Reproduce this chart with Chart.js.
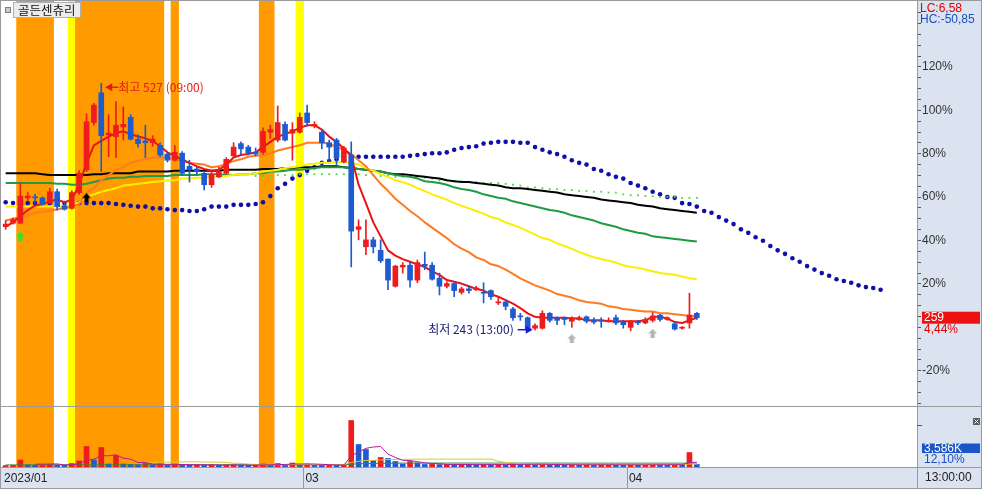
<!DOCTYPE html>
<html lang="ko">
<head>
<meta charset="utf-8">
<title>골든센츄리</title>
<script src="https://cdn.jsdelivr.net/npm/chart.js@4.4.1/dist/chart.umd.min.js"></script>
<style>
  html, body { margin: 0; padding: 0; background: #fff; }
  #box { position: relative; width: 982px; height: 489px; overflow: hidden; }
  #chart { display: block; }
  #pin { position: absolute; left: 5px; top: 7px; width: 4px; height: 4px; background: #c8c8c8; border: 1px solid #808080; }
  #name { position: absolute; left: 13px; top: 2px; height: 14px; padding: 0 4px; background: #ececec;
          border: 1px solid #b0b0b0; font: 12.5px/14px "Noto Sans CJK KR", sans-serif; color: #111; }
</style>
</head>
<body>
<div id="box">
  <canvas id="chart" width="982" height="489"></canvas>
  <div id="pin"></div>
  <div id="name">골든센츄리</div>
</div>
<script>
// one candle per bar, prices in won
const opens = [363,367,367,396,397,396,390,403,387,384,
  402,428,482,516,468,466,477,488,463,461,
  459,456,446,439,447,432,429,424,411,420,
  424,444,458,454,448,448,471,462,480,470,
  471,493,478,471,459,462,437,445,360,340,
  348,336,326,295,317,319,302,320,319,304,
  295,298,288,292,291,288,290,276,277,269,
  261,259,247,247,264,259,259,255,257,260,
  256,256,255,259,254,248,255,253,256,262,
  257,252,247,253,264];
const highs = [370,373,413,402,400,397,407,406,390,404,
  427,492,504,527,491,506,500,491,468,479,
  467,459,448,456,449,439,431,426,426,431,
  442,459,460,456,453,476,479,501,483,482,
  493,502,483,474,462,464,455,460,371,371,
  351,348,326,319,322,322,325,334,322,310,
  300,299,294,295,295,299,291,283,279,271,
  264,260,252,267,265,260,260,260,261,261,
  259,259,259,262,256,256,256,259,265,263,
  260,254,249,287,265];
const lows = [360,366,367,392,390,388,389,382,382,383,
  400,426,479,426,443,442,462,462,454,442,
  455,443,437,438,422,414,423,405,408,419,
  423,443,445,445,444,446,464,460,461,439,
  470,478,476,452,439,434,436,317,348,331,
  333,322,291,294,310,294,299,314,302,285,
  293,283,286,287,290,276,280,274,268,256,
  256,243,245,246,254,251,251,248,256,253,
  252,248,254,251,247,244,251,252,254,255,
  256,245,246,247,257];
const closes = [366,371,398,398,396,389,403,386,383,402,
  424,483,502,467,470,479,480,463,458,459,
  463,445,439,448,424,428,426,411,423,426,
  440,454,452,447,446,472,474,482,462,474,
  488,482,480,459,454,442,453,358,363,348,
  340,324,302,318,319,302,322,318,303,295,
  298,290,292,290,293,287,283,277,272,259,
  260,245,250,264,256,256,257,259,259,255,
  254,255,256,253,251,255,253,257,261,257,
  259,246,248,262,259];

// price averages
const ma5 = [363,368,375,382,387,389,392,394,391,394,
  411,436,456,461,466,470,472,469,466,464,
  461,455,448,444,440,436,432,429,427,428,
  434,442,445,446,448,454,460,466,469,472,
  476,479,479,474,466,460,452,444,411,390,
  368,352,336,330,326,323,320,317,312,308,
  302,300,298,295,292,290,286,283,279,275,
  270,264,260,259,259,259,259,258,258,256,
  256,256,255,255,255,255,255,256,260,260,
  258,254,253,256,259];
const ma20 = [370,372,374,376,379,380,381,383,384,386,
  389,402,407,416,422,428,431,436,438,440,
  442,442,442,440,438,436,435,434,431,432,
  435,438,440,443,444,445,447,450,452,454,
  456,459,459,459,458,454,451,446,439,432,
  422,412,404,395,388,381,375,368,362,356,
  350,343,338,334,328,325,320,318,314,309,
  304,300,296,293,290,286,284,282,279,277,
  276,275,272,271,269,268,267,266,266,264,
  264,263,262,261,261];
const ma60 = [386,386,386,386,386,386,386,386,386,387,
  391,397,400,403,405,407,410,411,412,413,
  414,415,416,416,418,418,419,419,420,420,
  421,422,423,423,424,426,427,428,430,431,
  432,434,435,436,436,437,437,436,434,430,
  427,423,420,416,414,411,407,404,400,397,
  394,390,387,384,381,378,374,372,368,365,
  362,358,354,350,348,344,341,338,334,331,
  328,326,324,322,319,317,316,314,312,310,
  309,308,306,304,303];
const ma120 = [413,413,413,413,413,413,413,412,412,411,
  411,412,414,416,418,419,419,420,420,421,
  421,421,421,422,422,422,422,423,423,423,
  422,422,423,423,424,424,426,426,427,428,
  428,429,430,431,431,431,431,430,429,428,
  427,426,424,422,421,420,418,415,414,413,
  411,408,406,405,403,400,398,396,395,392,
  390,388,386,384,382,381,379,376,374,372,
  370,367,365,363,360,358,356,355,352,351,
  350,349,348,347,346];
const ma240 = [424,424,424,424,424,423,422,422,422,422,
  422,422,423,423,424,424,424,424,426,426,
  426,426,426,427,427,427,427,427,427,427,
  428,428,428,428,428,429,429,429,430,430,
  431,431,431,432,432,432,431,430,429,428,
  427,426,424,423,423,422,421,420,419,418,
  416,415,414,414,413,412,411,410,408,407,
  407,406,405,404,403,402,400,399,398,397,
  396,394,393,392,391,390,388,387,386,384,
  383,382,381,380,379];

// dotted lines; the green one starts at bar 34, the blue one runs 25 bars past the last candle
const greenStart = 34;
const greenDots = [421,421,421,422,422,422,423,423,423,423,
  423,423,423,423,423,422,422,421,421,420,
  420,420,419,419,418,416,416,415,415,414,
  414,413,413,413,412,411,410,408,408,407,
  406,406,405,405,404,404,403,403,402,402,
  400,399,399,398,398,397,397,397,396,396,
  396];
const blueDots = [391,390,390,390,390,390,390,390,390,390,
  390,390,390,390,390,389,388,387,386,386,
  384,384,383,382,382,381,381,383,386,386,
  386,388,388,388,389,391,398,407,412,418,
  422,427,431,436,438,440,442,442,443,443,
  443,443,443,443,443,444,445,446,447,447,
  448,451,453,454,455,458,459,460,460,460,
  459,459,454,451,448,446,443,439,436,434,
  429,427,423,420,418,413,410,407,403,400,
  397,396,390,389,386,381,379,374,370,366,
  360,356,351,347,341,336,332,327,323,318,
  314,310,307,303,301,299,296,294,293,291];

// volume, thousand shares
const volumes = [2100,2300,10000,3000,2600,2800,3600,2900,2500,5000,
  8600,29300,10000,27900,4300,16400,4300,3600,3300,5000,
  3600,4300,2900,3600,3400,2900,3100,2800,3000,2700,
  2900,3100,2800,2600,2800,4300,3000,5000,3000,5700,
  3600,4300,3000,2800,3000,2700,2900,66500,32200,25000,
  9300,13600,12200,7900,4300,7900,5700,3600,3800,3500,
  3600,3300,3700,3400,3100,3600,3300,3500,3200,5000,
  3600,4000,3500,3800,3400,3200,3000,3300,3100,3400,
  3000,3200,3300,3100,2900,3200,3000,3300,3500,3200,
  3000,3300,3100,20700,3586];
const volMa5 = [null,null,null,null,4000,4100,4300,4400,3000,3300,
  4500,9800,11100,16200,16000,17600,12600,11300,6400,6500,
  4000,4000,3800,3900,3600,3300,3300,3200,3000,2900,
  2900,2900,2900,2800,2800,3100,3100,3500,3600,4200,
  4300,4300,4300,3800,3300,3000,2900,15600,21700,26700,
  28600,29300,18500,13600,9500,9200,7600,5900,5100,4700,
  3600,3600,3600,3500,3400,3400,3400,3400,3400,3700,
  3800,3900,3900,4000,3700,3600,3400,3300,3200,3200,
  3200,3200,3200,3200,3100,3100,3100,3100,3200,3200,
  3200,3300,3200,6600,6700];
const volMa20 = [null,null,null,null,null,null,null,null,null,null,
  null,null,null,null,null,null,null,null,null,6800,
  6900,7000,7000,7100,7200,7400,7300,7200,7000,6900,
  6700,5300,5200,4100,3700,3200,3200,3300,3300,3400,
  3400,3400,3400,3400,3400,3400,3400,6600,8100,9200,
  9600,10100,10600,10800,10900,11100,11300,11300,11300,11300,
  11300,11300,11300,11300,11300,11300,11300,8100,6600,5500,
  4800,4500,4100,3900,3900,3700,3600,3400,3400,3400,
  3400,3400,3400,3400,3400,3400,3400,3400,3400,3400,
  3400,3400,3400,4300,4300];
const volMa60 = [3000,3000,3000,3000,3000,3000,3000,3000,3000,3000,
  3000,3000,3000,3000,3000,3000,3000,3000,3000,3000,
  3000,3000,3000,3000,3000,3000,3000,3000,3000,3000,
  3000,3000,3000,3000,3000,3000,3000,3000,3000,3000,
  3000,3000,3000,3000,3000,3000,3000,4100,4600,5000,
  5100,5300,5400,5500,5500,5600,5600,5600,5600,5600,
  5600,5600,5600,5600,5600,5600,5600,5600,5600,5600,
  5600,5600,5600,5600,5600,5600,5600,5500,5500,5500,
  5500,5500,5500,5500,5500,5500,5500,5500,5500,5500,
  5500,5500,5500,5500,5500];

// highlighted bars
const orangeBars = [2,3,4,5,6,10,11,12,13,14,15,16,17,18,19,20,21,23,35,36];
const yellowBars = [9,40];

// signal arrows under the candles
const signalBars = [2,11,77,88];
const signalPrices = [352,396,235,241];
const signalKinds = ['buy','alert','mark','mark'];

// x axis
const monthLabels = ['2023/01','03','04'];
const monthStarts = [0,41,85];
const timeLabel = '13:00:00';

// right axis: percent against the base price
const basePrice = 248;
const pctLabels = [120,100,80,60,40,20,-20];
const highTime = '09:00';
const lowTime = '13:00';
const volRatio = '12,10%';

const RED = '#ee1c1c', BLUE = '#1f5bd0';
const volPanelTop = 406;

const pts = (arr, start = 0) => arr.map((v, k) => ({ x: k + start, y: v }));
const pct = v => (v / basePrice - 1) * 100;
const fmt = v => v.toFixed(2).replace('.', ',');
const candleColors = closes.map((c, k) => c >= opens[k] ? RED : BLUE);
const volColors = volumes.map((v, k) => k > 0 && v < volumes[k - 1] ? BLUE : RED);

const pctTicks = [];
for (let p = -35; p <= 145; p += 5) pctTicks.push(p);

function arrowImage(color) {
  const c = document.createElement('canvas');
  c.width = 9; c.height = 9;
  const g = c.getContext('2d');
  g.fillStyle = color;
  g.beginPath();
  g.moveTo(4.5, 0); g.lineTo(9, 4.5); g.lineTo(6.5, 4.5); g.lineTo(6.5, 9);
  g.lineTo(2.5, 9); g.lineTo(2.5, 4.5); g.lineTo(0, 4.5);
  g.closePath(); g.fill();
  return c;
}
const arrows = { buy: arrowImage('#2ee62e'), alert: arrowImage('#000000'), mark: arrowImage('#b4b4b4') };

function line(ctx, x1, y1, x2, y2) {
  ctx.beginPath(); ctx.moveTo(x1, y1); ctx.lineTo(x2, y2); ctx.stroke();
}

const frame = {
  id: 'frame',
  beforeDraw(chart) {
    const { ctx, width, height, chartArea: a } = chart;
    ctx.save();
    ctx.fillStyle = '#ffffff';
    ctx.fillRect(0, 0, width, height);
    ctx.fillStyle = '#dae3ef';
    ctx.fillRect(a.right, 0, width - a.right, height);
    ctx.fillRect(0, a.bottom, a.right, height - a.bottom);
    ctx.restore();
  },
  afterDraw(chart) {
    const { ctx, width, height, chartArea: a, scales } = chart;
    const xs = scales.x, ys = scales.y;
    ctx.save();
    ctx.strokeStyle = '#9a9a9a';
    ctx.lineWidth = 1;
    line(ctx, 0, volPanelTop + 0.5, width, volPanelTop + 0.5);
    line(ctx, 0, a.bottom + 0.5, width, a.bottom + 0.5);
    line(ctx, a.right + 0.5, 0, a.right + 0.5, height);
    ctx.strokeRect(0.5, 0.5, width - 1, height - 1);
    xs.ticks.forEach(t => {
      if (t.value > xs.min) {
        const x = Math.round(xs.getPixelForValue(t.value)) + 0.5;
        line(ctx, x, a.bottom, x, height);
      }
    });
    ctx.strokeStyle = '#555';
    line(ctx, a.right, 425.5, a.right + 5, 425.5);

    ctx.font = '12px "Liberation Sans", Arial, sans-serif';
    ctx.textBaseline = 'middle';
    ctx.textAlign = 'left';
    const last = closes[closes.length - 1];
    const lo = Math.min(...lows), hi = Math.max(...highs);
    ctx.fillStyle = '#e00000';
    ctx.fillText('LC:' + fmt((last / lo - 1) * 100), 920, 9);
    ctx.fillStyle = '#1a4fc4';
    ctx.fillText('HC:' + fmt((last / hi - 1) * 100), 920, 20);

    const py = ys.getPixelForValue(last);
    ctx.fillStyle = '#ee1111';
    ctx.fillRect(922, py - 6, 58, 12);
    ctx.fillStyle = '#ffffff';
    ctx.fillText(String(last), 924, py);
    ctx.fillStyle = '#e00000';
    ctx.fillText(fmt(pct(last)) + '%', 924, py + 12);

    const lastVol = volumes[volumes.length - 1];
    ctx.fillStyle = '#1a56c8';
    ctx.fillRect(922, 443.5, 58, 9.5);
    ctx.fillStyle = '#ffffff';
    ctx.fillText(lastVol.toLocaleString('en-US') + 'K', 924, 448.5);
    ctx.fillStyle = '#1a4fc4';
    ctx.fillText(volRatio, 924, 459.5);
    ctx.fillStyle = '#222';
    ctx.fillText(timeLabel, 925, 478);

    ctx.fillStyle = '#5a5a5a';
    ctx.fillRect(973, 418, 7, 7);
    ctx.strokeStyle = '#ffffff';
    line(ctx, 974.5, 419.5, 978.5, 423.5);
    line(ctx, 978.5, 419.5, 974.5, 423.5);

    // highest and lowest marks
    ctx.font = '12px "Noto Sans CJK KR", sans-serif';
    const hiIdx = highs.indexOf(hi);
    const hx = xs.getPixelForValue(hiIdx) + 4, hy = ys.getPixelForValue(hi) + 4;
    ctx.fillStyle = '#e41a1a';
    ctx.beginPath(); ctx.moveTo(hx, hy); ctx.lineTo(hx + 7, hy - 4); ctx.lineTo(hx + 7, hy + 4); ctx.fill();
    ctx.fillRect(hx + 7, hy - 0.75, 6, 1.5);
    ctx.fillText('최고 ' + hi + ' (' + highTime + ')', hx + 13, hy);

    const loIdx = lows.indexOf(lo);
    const lx = xs.getPixelForValue(loIdx) + 5, ly = ys.getPixelForValue(lo) - 2;
    ctx.fillStyle = '#1a1ae0';
    ctx.beginPath(); ctx.moveTo(lx, ly); ctx.lineTo(lx - 7, ly - 4); ctx.lineTo(lx - 7, ly + 4); ctx.fill();
    ctx.fillRect(lx - 15, ly - 0.75, 8, 1.5);
    ctx.fillStyle = '#20207a';
    ctx.textAlign = 'right';
    ctx.fillText('최저 ' + lo + ' (' + lowTime + ')', lx - 19, ly);
    ctx.restore();
  }
};

Chart.defaults.font.family = '"Liberation Sans", Arial, sans-serif';
Chart.defaults.font.size = 12;

const maLine = (data, color, order) => ({
  type: 'line', data: pts(data), yAxisID: 'y', borderColor: color, borderWidth: 2,
  pointRadius: 0, borderJoinStyle: 'round', order
});
const volLine = (data, color) => ({
  type: 'line', data: pts(data), yAxisID: 'yv', borderColor: color, borderWidth: 1,
  pointRadius: 0, spanGaps: false, order: 17
});

new Chart(document.getElementById('chart'), {
  type: 'bar',
  data: {
    datasets: [
      { data: orangeBars.map(i => ({ x: i, y: 1 })), yAxisID: 'yb', backgroundColor: '#ff9a00',
        barThickness: 7.6, grouped: false, order: 20 },
      { data: yellowBars.map(i => ({ x: i, y: 1 })), yAxisID: 'yb', backgroundColor: '#ffff00',
        barThickness: 7.6, grouped: false, order: 20 },
      { data: pts(volumes), yAxisID: 'yv', backgroundColor: volColors, barThickness: 5,
        grouped: false, order: 18 },
      volLine(volMa5, '#b0209a'),
      volLine(volMa20, '#d8c830'),
      volLine(volMa60, '#2a8a4a'),
      { type: 'line', data: pts(blueDots), yAxisID: 'y', showLine: false, pointRadius: 2.3,
        pointBackgroundColor: '#1010a8', pointBorderWidth: 0, order: 15 },
      { type: 'line', data: pts(greenDots, greenStart), yAxisID: 'y', showLine: false, pointStyle: 'rect',
        pointRadius: 1.3, pointBackgroundColor: '#44dd44', pointBorderWidth: 0, order: 14 },
      maLine(ma240, '#000000', 12),
      maLine(ma120, '#1f9a45', 11),
      maLine(ma60, '#f8f000', 10),
      maLine(ma20, '#ff7a20', 9),
      maLine(ma5, '#e81414', 8),
      { data: highs.map((h, k) => ({ x: k, y: [lows[k], h] })), yAxisID: 'y',
        backgroundColor: candleColors, barThickness: 1, grouped: false, order: 3 },
      { data: opens.map((o, k) => ({ x: k, y: [o, closes[k]] })), yAxisID: 'y',
        backgroundColor: candleColors, barThickness: 5, minBarLength: 1, grouped: false, order: 2 },
      { type: 'line', data: signalBars.map((i, k) => ({ x: i, y: signalPrices[k] })), yAxisID: 'y',
        showLine: false, pointStyle: signalKinds.map(k => arrows[k]), pointRadius: 5, order: 1 }
    ]
  },
  options: {
    responsive: false,
    animation: false,
    devicePixelRatio: 1,
    events: [],
    layout: { autoPadding: false, padding: { left: 2, top: 0, right: 0, bottom: 0 } },
    plugins: { legend: { display: false }, tooltip: { enabled: false } },
    scales: {
      x: {
        type: 'linear', min: -0.5, max: 123.95, bounds: 'data', offset: false,
        afterBuildTicks: s => { s.ticks = monthStarts.map(i => ({ value: i - 0.5 })); },
        afterFit: s => { s.height = 22; s.paddingLeft = 0; s.paddingRight = 0; },
        grid: { display: false, drawTicks: false },
        border: { display: false },
        ticks: {
          autoSkip: false, maxRotation: 0, minRotation: 0, align: 'start', padding: 4, labelOffset: 2,
          color: '#222', callback: v => monthLabels[monthStarts.indexOf(v + 0.5)]
        }
      },
      y: {
        position: 'right', min: 88.4, max: 622.1, bounds: 'data',
        afterBuildTicks: s => { s.ticks = pctTicks.map(p => ({ value: basePrice * (1 + p / 100) })); },
        afterFit: s => { s.width = 65; s.paddingTop = 0; s.paddingBottom = 0; },
        grid: { drawOnChartArea: false, drawTicks: true, tickLength: 4, color: '#555' },
        border: { display: false },
        ticks: {
          autoSkip: false, padding: 1, color: '#333',
          callback: v => { const p = Math.round(pct(v)); return pctLabels.includes(p) ? p + '%' : ''; }
        }
      },
      yv: { display: false, min: 0, max: 667810 },
      yb: { display: false, min: 0, max: 1 }
    }
  },
  plugins: [frame]
});
</script>
</body>
</html>
